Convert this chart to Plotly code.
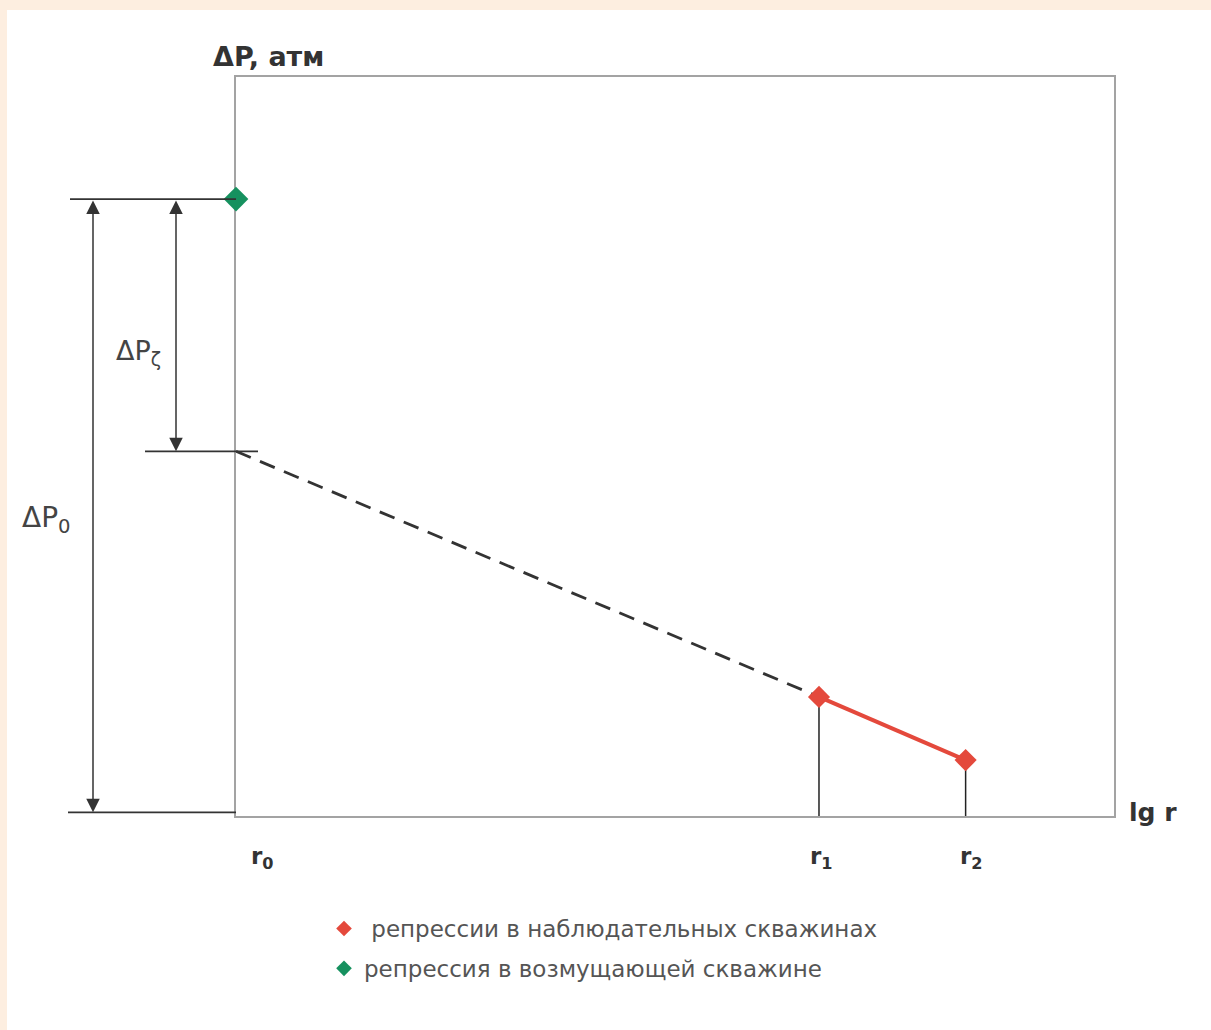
import plotly.graph_objects as go

# ---- data ----
r_labels = ["r<sub>0</sub>", "r<sub>1</sub>", "r<sub>2</sub>"]
r0 = 0.0
r_obs = [6.64, 8.31]            # lg r of observation wells r1, r2
dp_obs = [1.57, 0.71]           # ΔP in observation wells
dp_well = 8.34                  # ΔP in disturbing well (ΔP0 level)
dp_extrap = 4.91                # extrapolated ΔP at r0
X_RANGE = [0, 10]
Y_RANGE = [-0.05, 10]

legend_obs = " репрессии в наблюдательных скважинах"
legend_well = "репрессия в возмущающей скважине"

GREEN = "#16915f"
RED = "#e4493c"
DARK = "#333333"
FONT = "DejaVu Sans, Liberation Sans, Arial, sans-serif"

fig = go.Figure()

# dashed extrapolation line
fig.add_trace(go.Scatter(x=[r0, r_obs[0]], y=[dp_extrap, dp_obs[0]], mode="lines",
                         line=dict(color=DARK, width=2.8, dash="16px,10px"),
                         showlegend=False, hoverinfo="skip"))
# verticals from observation points down to axis
for xv, yv in zip(r_obs, dp_obs):
    fig.add_trace(go.Scatter(x=[xv, xv], y=[Y_RANGE[0], yv], mode="lines",
                             line=dict(color="#222", width=1.5),
                             showlegend=False, hoverinfo="skip"))
# red line
fig.add_trace(go.Scatter(x=r_obs, y=dp_obs, mode="lines",
                         line=dict(color=RED, width=4), showlegend=False))
# red points
fig.add_trace(go.Scatter(x=r_obs, y=dp_obs, mode="markers", name=legend_obs,
                         marker=dict(symbol="diamond", size=17, color=RED),
                         legendgroup="a", cliponaxis=False))
# green point
fig.add_trace(go.Scatter(x=[r0], y=[dp_well], mode="markers", name=legend_well,
                         marker=dict(symbol="diamond", size=19, color=GREEN),
                         legendgroup="b", cliponaxis=False))

W, H = 1211, 1030
L, R, T, B = 236, 97, 77, 214
pw, ph = W - L - R, H - T - B

def px_x(p):
    return (p - L) / pw

def px_y(p):
    return (H - B - p) / ph

shapes = []
# page background: peach band on top/left, white panel
shapes.append(dict(type="rect", xref="paper", yref="paper", layer="below",
                   x0=px_x(7), x1=px_x(W + 5), y0=px_y(10), y1=px_y(H + 5),
                   fillcolor="white", line=dict(width=0)))
# dimension lines
for (xa, xb, yv) in [(70, L, dp_well), (145, 258, dp_extrap), (68, L, 0.0)]:
    shapes.append(dict(type="line", xref="paper", yref="y",
                       x0=px_x(xa), x1=px_x(xb), y0=yv, y1=yv,
                       line=dict(color="#333", width=1.8)))

annotations = []
# double-headed dimension arrows
for xp, ya, yb in [(93, dp_well, 0.0), (176, dp_well, dp_extrap)]:
    annotations.append(dict(x=px_x(xp), xref="paper", y=yb, yref="y",
                            ax=0, axref="pixel", ay=ya, ayref="y", text="",
                            showarrow=True, arrowside="end+start", arrowhead=2,
                            arrowsize=1.8, arrowwidth=1.5, arrowcolor="#333",
                            standoff=0, startstandoff=0))
# dimension labels
annotations.append(dict(x=px_x(46), xref="paper", y=3.98, yref="y", text="ΔP<sub>0</sub>",
                        xanchor="center", yanchor="middle", showarrow=False,
                        font=dict(size=28, color="#444", family=FONT)))
annotations.append(dict(x=px_x(138), xref="paper", y=6.25, yref="y", text="ΔP<sub>ζ</sub>",
                        xanchor="center", yanchor="middle", showarrow=False,
                        font=dict(size=27, color="#444", family=FONT)))
# axis titles
annotations.append(dict(x=px_x(268), xref="paper", y=px_y(57), yref="paper",
                        text="<b>ΔP, атм</b>", xanchor="center", yanchor="middle",
                        showarrow=False, font=dict(size=27, color="#333", family=FONT)))
annotations.append(dict(x=px_x(1153), xref="paper", y=0.0, yref="y", text="<b>lg r</b>",
                        xanchor="center", yanchor="middle", showarrow=False,
                        font=dict(size=25, color="#333", family=FONT)))
# r labels
for xv, lab, sh in zip([r0] + r_obs, r_labels, [26, 3, 6]):
    annotations.append(dict(x=xv, xref="x", y=px_y(858), yref="paper",
                            text="<b>" + lab + "</b>", xanchor="center", yanchor="middle",
                            xshift=sh, showarrow=False,
                            font=dict(size=23, color="#333", family=FONT)))

fig.update_layout(
    width=W, height=H,
    margin=dict(l=L, r=R, t=T, b=B, pad=0),
    paper_bgcolor="#fdeee0",
    plot_bgcolor="white",
    shapes=shapes,
    annotations=annotations,
    showlegend=True,
    legend=dict(x=px_x(324), xanchor="left", y=px_y(907), yanchor="top",
                xref="paper", yref="paper", traceorder="grouped", tracegroupgap=7,
                bgcolor="rgba(0,0,0,0)",
                font=dict(size=23, color="#555", family=FONT), itemsizing="constant"),
    xaxis=dict(range=X_RANGE, showgrid=False, zeroline=False, showticklabels=False,
               ticks="", showline=True, mirror=True, linecolor="#a3a3a3", linewidth=2,
               layer="below traces"),
    yaxis=dict(range=Y_RANGE, showgrid=False, zeroline=False, showticklabels=False,
               ticks="", showline=True, mirror=True, linecolor="#a3a3a3", linewidth=2,
               layer="below traces"),
)

fig.write_html("out.html", config={"displayModeBar": False},
               post_script="document.body.style.margin='0';document.body.style.overflow='hidden';")
